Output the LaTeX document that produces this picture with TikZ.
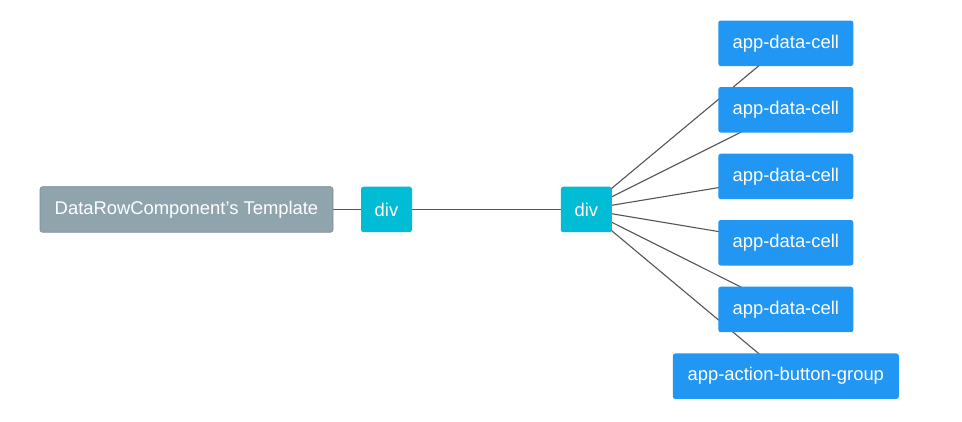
\documentclass[tikz,border=0pt]{standalone}
\usepackage{fontspec}
\setmainfont{Liberation Sans}
\definecolor{rootgray}{HTML}{90A4AE}
\definecolor{divcyan}{HTML}{00BCD4}
\definecolor{cellblue}{HTML}{2196F3}
\definecolor{linkgray}{HTML}{555555}
\begin{document}
\begin{tikzpicture}[x=1pt,y=-1pt,
  box/.style={rectangle,rounded corners=2.5pt,inner sep=0pt,text=white,
    font=\fontsize{18.4}{20}\selectfont,minimum height=45.5pt},
  rootbox/.style={box,fill=rootgray,draw=rootgray!85!black,line width=0.6pt,minimum width=293pt},
  divbox/.style={box,fill=divcyan,minimum width=51pt},
  cellbox/.style={box,fill=cellblue,minimum width=135pt},
  link/.style={draw=linkgray,line width=1.1pt}]
\useasboundingbox (0,0) rectangle (962,422);
\fill[white] (0,0) rectangle (962,422);
% links first (behind nodes)
\coordinate (pr) at (186.5,209.5);
\coordinate (pd1) at (386.5,209.5);
\coordinate (pd2) at (586.3,209.5);
\coordinate (pc1) at (785.8,43.3);
\coordinate (pc2) at (785.8,109.8);
\coordinate (pc3) at (785.8,176.5);
\coordinate (pc4) at (785.8,242.8);
\coordinate (pc5) at (785.8,309.5);
\coordinate (pa) at (785.8,376.2);
\path[link] (pr) -- (pd1);
\path[link] (pd1) -- (pd2);
\foreach \c in {pc1,pc2,pc3,pc4,pc5,pa} {\path[link] (pd2) -- (\c);}
% nodes
\node[rootbox] (root) at (pr) {DataRowComponent\char39 s Template};
\node[divbox] (div1) at (pd1) {div};
\node[divbox] (div2) at (pd2) {div};
\node[cellbox] (c1) at (pc1) {app-data-cell};
\node[cellbox] (c2) at (pc2) {app-data-cell};
\node[cellbox] (c3) at (pc3) {app-data-cell};
\node[cellbox] (c4) at (pc4) {app-data-cell};
\node[cellbox] (c5) at (pc5) {app-data-cell};
\node[cellbox,minimum width=226pt] (act) at (pa) {app-action-button-group};
\end{tikzpicture}
\end{document}
